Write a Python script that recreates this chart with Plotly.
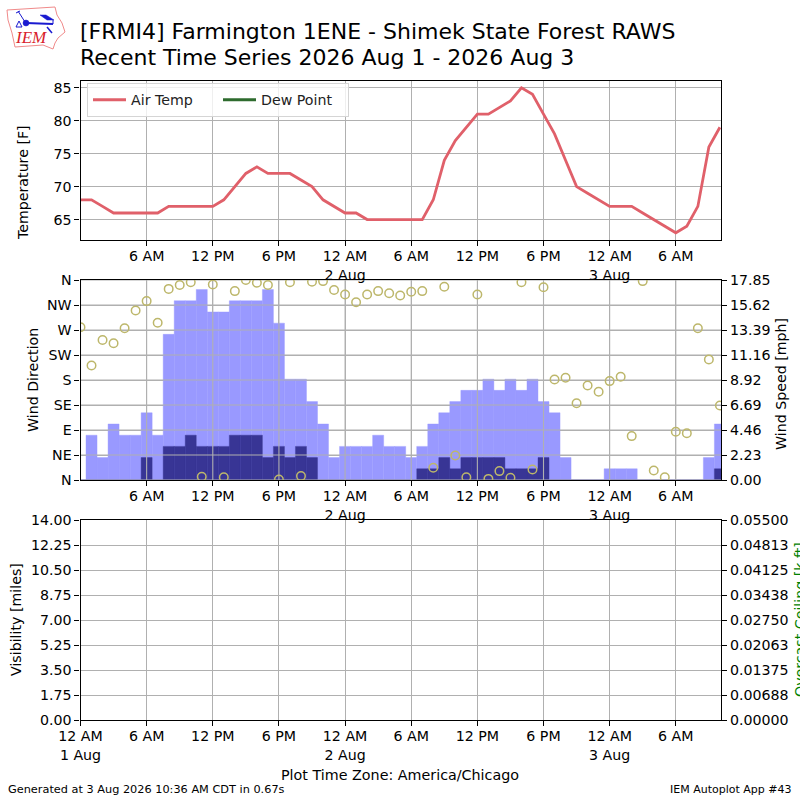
import plotly.graph_objects as go
import pandas as pd

times = pd.date_range('2026-08-01 00:00', periods=59, freq='h')
air_temp = [68, 68, 67, 66, 66, 66, 66, 66, 67, 67, 67, 67, 67, 68, 70, 72, 73, 72, 72, 72,
            71, 70, 68, 67, 66, 66, 65, 65, 65, 65, 65, 65, 68, 74, 77, 79, 81, 81, 82, 83,
            85, 84, 81, 78, 74, 70, 69, 68, 67, 67, 67, 66, 65, 64, 63, 64, 67, 76, 79]
wind_dir = [275, 206, 252, 246, 273, 305, 322, 283, 344, 351, 356, 6, 352, 5, 340, 360, 355, 351, 1, 356,
            7, 357, 358, 342, 334, 320, 334, 340, 336, 332, 339, 340, 22, 348, 44, 5, 334, 2, 16, 4,
            356, 19, 347, 181, 184, 138, 170, 159, 178, 186, 79, 358, 17, 5, 87, 84, 273, 217, 134]
wind_gust = [0, 4, 2, 5, 4, 4, 6, 4, 13, 16, 16, 17, 15, 15, 16, 16, 16, 17, 14, 9,
             9, 7, 5, 2, 3, 3, 3, 4, 3, 3, 2, 3, 5, 6, 7, 8, 8, 9, 8, 9,
             8, 9, 7, 6, 2, 0, 0, 0, 1, 1, 1, 0, 0, 0, 0, 0, 0, 2, 5]
wind_speed = [0, 0, 0, 0, 0, 0, 2, 0, 3, 3, 4, 3, 3, 3, 4, 4, 4, 2, 3, 2,
              3, 2, 0, 0, 0, 0, 0, 0, 0, 0, 0, 1, 1, 2, 1, 2, 2, 2, 2, 1,
              1, 1, 2, 0, 0, 0, 0, 0, 0, 0, 0, 0, 0, 0, 0, 0, 0, 0, 1]

x_ticks = ['2026-08-01 00:00', '2026-08-01 06:00', '2026-08-01 12:00', '2026-08-01 18:00',
           '2026-08-02 00:00', '2026-08-02 06:00', '2026-08-02 12:00', '2026-08-02 18:00',
           '2026-08-03 00:00', '2026-08-03 06:00']
x_labels = ['12 AM<br>1 Aug', '6 AM', '12 PM', '6 PM', '12 AM<br>2 Aug', '6 AM', '12 PM', '6 PM',
            '12 AM<br>3 Aug', '6 AM']
x_range = ['2026-08-01 00:00', '2026-08-03 10:06']
temp_ticks = [65, 70, 75, 80, 85]
dir_ticks = [0, 45, 90, 135, 180, 225, 270, 315, 360]
dir_labels = ['N', 'NE', 'E', 'SE', 'S', 'SW', 'W', 'NW', 'N']
speed_ticks = [0, 2.23125, 4.4625, 6.69375, 8.925, 11.15625, 13.3875, 15.61875, 17.85]
speed_labels = ['0.00', '2.23', '4.46', '6.69', '8.92', '11.16', '13.39', '15.62', '17.85']
vis_ticks = [0, 1.75, 3.5, 5.25, 7, 8.75, 10.5, 12.25, 14]
vis_labels = ['0.00', '1.75', '3.50', '5.25', '7.00', '8.75', '10.50', '12.25', '14.00']
ceil_ticks = [0, 0.006875, 0.01375, 0.020625, 0.0275, 0.034375, 0.04125, 0.048125, 0.055]
ceil_labels = ['0.00000', '0.00688', '0.01375', '0.02063', '0.02750', '0.03438', '0.04125', '0.04813', '0.05500']

FONT = 'DejaVu Sans'
TICK = 14.2
GRID = '#b0b0b0'


def px(x):
    return x / 800


def py(y):
    return 1 - y / 800


def xax(vals, labels, domain_anchor):
    return dict(type='date', range=x_range, domain=[px(80.5), px(721)], anchor=domain_anchor,
                automargin=False,
                tickmode='array', tickvals=vals, ticktext=labels, tickangle=0, ticklabelstandoff=-2,
                ticks='outside', ticklen=5, tickwidth=1.1, tickcolor='black',
                showline=True, linecolor='black', linewidth=1.1, mirror=True,
                showgrid=True, gridcolor=GRID, gridwidth=1.1, zeroline=False,
                tickfont=dict(family=FONT, size=TICK, color='black'))


def yax(vals, labels, rng, top, bottom, anchor, side='left', overlay=None, grid=True):
    d = dict(range=rng, anchor=anchor, side=side, tickmode='array', tickvals=vals,
             automargin=False,
             ticks='outside', ticklen=5, tickwidth=1.1, tickcolor='black',
             showline=True, linecolor='black', linewidth=1.1,
             showgrid=grid, gridcolor=GRID, gridwidth=1.1, zeroline=False,
             tickfont=dict(family=FONT, size=TICK, color='black'))
    d['ticktext'] = labels
    if overlay:
        d['overlaying'] = overlay
    else:
        d['domain'] = [py(bottom), py(top)]
    return d


fig = go.Figure()

# temperature panel
fig.add_trace(go.Scatter(x=times, y=air_temp, mode='lines', name='Air Temp',
                         line=dict(color='#e0606a', width=2.8), xaxis='x', yaxis='y'))
fig.add_trace(go.Scatter(x=[None], y=[None], mode='lines', name='Dew Point',
                         line=dict(color='#2e6b2e', width=2.8), xaxis='x', yaxis='y'))

# wind panel, gust behind sustained speed
fig.add_trace(go.Bar(x=times, y=wind_gust, width=3600000,
                     marker=dict(color='#9999ff', line=dict(color='#9999ff', width=0.4)),
                     showlegend=False, xaxis='x2', yaxis='y2'))
fig.add_trace(go.Bar(x=times, y=wind_speed, width=3600000,
                     marker=dict(color='#383595', line=dict(color='#383595', width=0.4)),
                     showlegend=False, xaxis='x2', yaxis='y2'))

# grid sits above the bars in the original
grid_x, grid_y = [], []
for t in x_ticks:
    grid_x += [t, t, None]
    grid_y += [speed_ticks[0], speed_ticks[-1], None]
for s in speed_ticks:
    grid_x += [x_range[0], x_range[1], None]
    grid_y += [s, s, None]
fig.add_trace(go.Scatter(x=grid_x, y=grid_y, mode='lines', line=dict(color=GRID, width=1.1),
                         hoverinfo='skip', showlegend=False, xaxis='x2', yaxis='y2'))

fig.add_trace(go.Scatter(x=times, y=wind_dir, mode='markers', showlegend=False,
                         marker=dict(symbol='circle-open', size=8.5, color='#bdb76b', line=dict(width=1.5, color='#bdb76b')),
                         xaxis='x2', yaxis='y3'))

# nothing reported for visibility and ceiling
fig.add_trace(go.Scatter(x=[None], y=[None], showlegend=False, xaxis='x3', yaxis='y4'))
fig.add_trace(go.Scatter(x=[None], y=[None], showlegend=False, xaxis='x3', yaxis='y5'))

fig.update_layout(
    width=800, height=800, autosize=False,
    margin=dict(l=0, r=0, t=0, b=0, autoexpand=False),
    paper_bgcolor='white', plot_bgcolor='white',
    barmode='overlay',
    font=dict(family=FONT, size=TICK, color='black'),
    xaxis=xax(x_ticks[1:], x_labels[1:], 'y'),
    xaxis2=xax(x_ticks[1:], x_labels[1:], 'y2'),
    xaxis3=xax(x_ticks, x_labels, 'y4'),
    yaxis=yax(temp_ticks, [str(t) for t in temp_ticks], [61.9, 86.1], 80.5, 240, 'x'),
    yaxis2=yax(speed_ticks, speed_labels, [0, 17.85], 280, 480, 'x2', side='right'),
    yaxis3=yax(dir_ticks, dir_labels, [0, 360], 280, 480, 'x2', overlay='y2', grid=False),
    yaxis4=yax(vis_ticks, vis_labels, [0, 14], 520, 720, 'x3'),
    yaxis5=yax(ceil_ticks, ceil_labels, [0, 0.055], 520, 720, 'x3', side='right', overlay='y4', grid=False),
    legend=dict(orientation='h', x=px(87), y=py(83), xanchor='left', yanchor='top',
                bgcolor='rgba(255,255,255,0.8)', bordercolor='#d5d5d5', borderwidth=1,
                itemwidth=33, entrywidth=82, font=dict(family=FONT, size=TICK, color='#222222')),
)
fig.update_yaxes(mirror=True, selector=dict(anchor='x'))


def note(text, x, y, size, xanchor='left', color='black', family=FONT, **kw):
    fig.add_annotation(text=text, xref='paper', yref='paper', x=px(x), y=py(y), xanchor=xanchor,
                       yanchor='middle', showarrow=False, font=dict(family=family, size=size, color=color), **kw)


note('[FRMI4] Farmington 1ENE - Shimek State Forest RAWS', 78, 31.5, 22)
note('Recent Time Series 2026 Aug 1 - 2026 Aug 3', 78, 57, 22)
note('Plot Time Zone: America/Chicago', 400, 775, 14.3, xanchor='center')
note('Generated at 3 Aug 2026 10:36 AM CDT in 0.67s', 6, 789, 11.3)
note('IEM Autoplot App #43', 794, 789, 11, xanchor='right')

# axis titles
note('Temperature [F]', 23, 183, TICK, xanchor='center', textangle=-90)
note('Wind Direction', 33, 380, TICK, xanchor='center', textangle=-90)
note('Wind Speed [mph]', 781, 384, TICK, xanchor='center', textangle=-90)
note('Visibility [miles]', 16, 620, TICK, xanchor='center', textangle=-90)
note('Overcast Ceiling [k ft]', 800, 620, TICK, xanchor='center', color='green', textangle=-90)

# IEM logo
note('<i>IEM</i>', 13, 38, 17, color='#d9202a', family='Liberation Serif')
outline = [(7, 10), (55, 7), (57, 15), (62, 23), (65, 32), (58, 38), (55, 43), (53, 49), (43, 45), (15, 47), (12, 33), (8, 20)]


def path(points, close=False):
    s = 'M ' + ' L '.join(f'{px(a):.5f},{py(b):.5f}' for a, b in points)
    return s + (' Z' if close else '')


fig.add_shape(type='path', xref='paper', yref='paper', path=path(outline, True),
              line=dict(color='#f08a8a', width=1))
for pts, w in [([(26, 23), (53, 24)], 2), ([(18, 11), (25, 22)], 1), ([(53, 20), (53, 24)], 1),
               ([(47, 27), (52, 33)], 1.5), ([(16, 13), (20, 11)], 1)]:
    fig.add_shape(type='path', xref='paper', yref='paper', path=path(pts), line=dict(color='#1a1ad0', width=w))
fig.add_shape(type='path', xref='paper', yref='paper', path=path([(40, 15), (46, 15), (54, 20), (47, 20)], True),
              fillcolor='#1a1ad0', line=dict(color='#1a1ad0', width=0.5))
fig.add_shape(type='circle', xref='paper', yref='paper', x0=px(23), x1=px(29), y0=py(26), y1=py(20),
              fillcolor='#1a1ad0', line=dict(color='#1a1ad0', width=0.5))
fig.add_shape(type='path', xref='paper', yref='paper', path=path([(16, 27), (22, 27), (19, 21)], True),
              line=dict(color='#1a1ad0', width=1))

fig.write_html("out.html", config={'displayModeBar': False}, post_script="document.body.style.margin='0';")
